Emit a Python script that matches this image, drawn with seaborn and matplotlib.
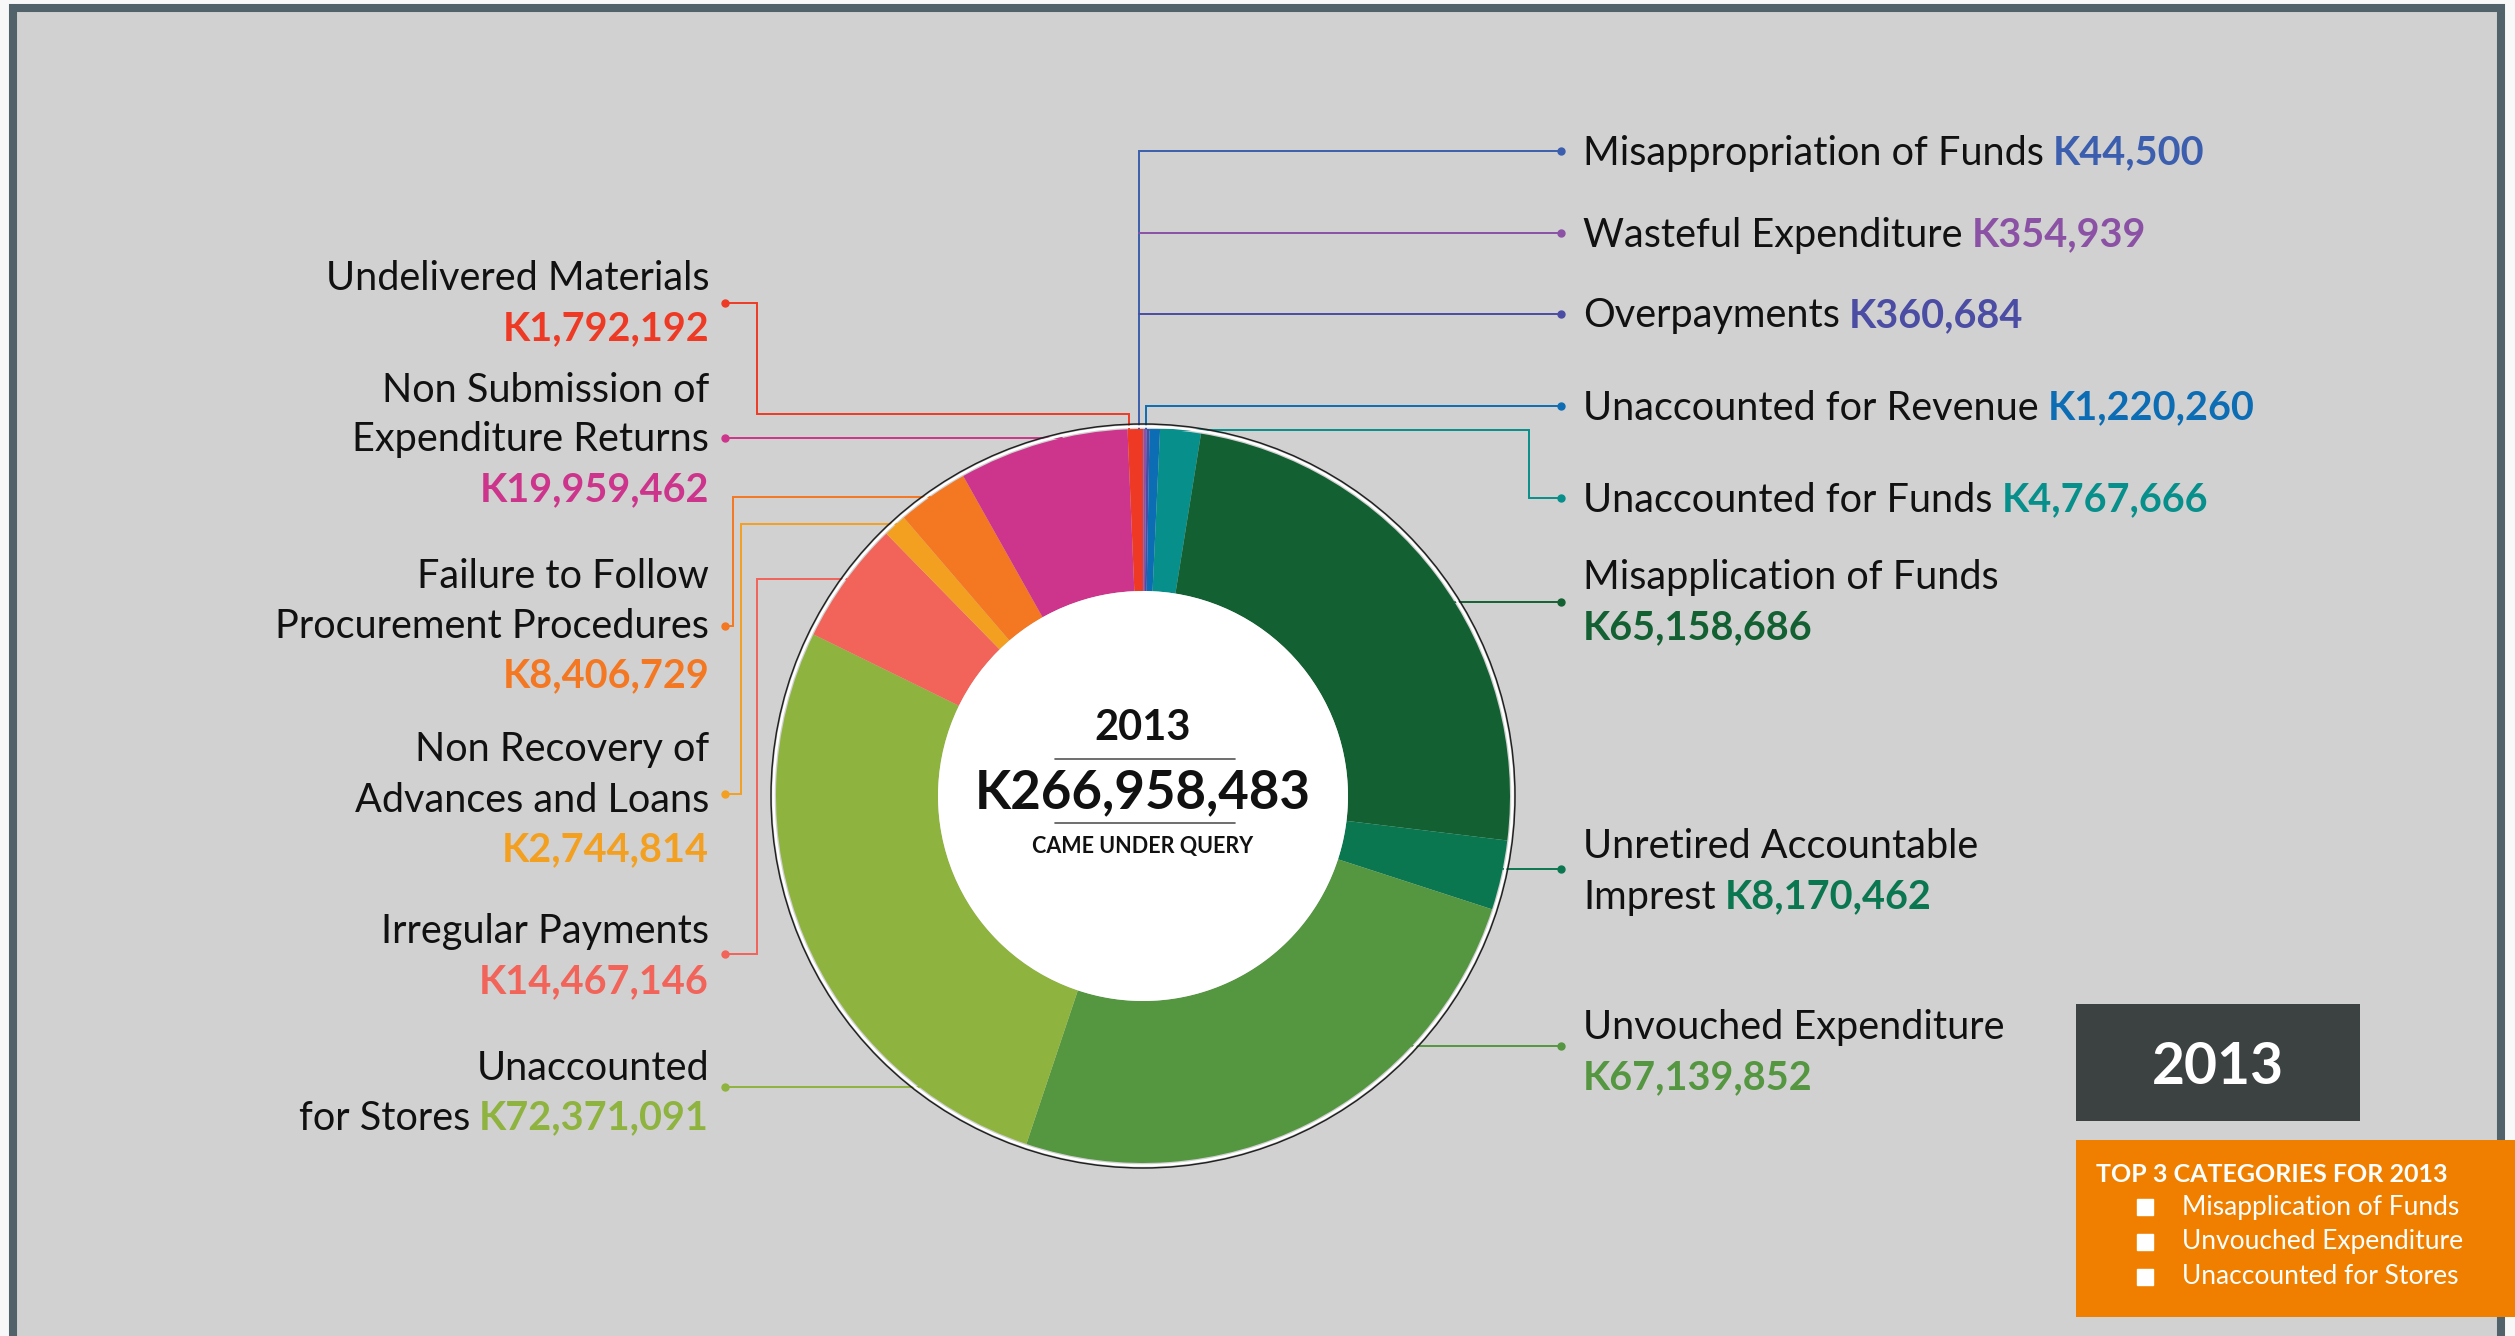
import matplotlib
matplotlib.use('Agg')
import numpy as np
import seaborn as sns
import matplotlib.pyplot as plt
from matplotlib.patches import Rectangle, Circle

# ---- data (2013 queried amounts, clockwise from 12 o'clock) ----
categories = ['Misappropriation of Funds', 'Wasteful Expenditure', 'Overpayments',
              'Unaccounted for Revenue', 'Unaccounted for Funds', 'Misapplication of Funds',
              'Unretired Accountable Imprest', 'Unvouched Expenditure', 'Unaccounted for Stores',
              'Irregular Payments', 'Non Recovery of Advances and Loans',
              'Failure to Follow Procurement Procedures',
              'Non Submission of Expenditure Returns', 'Undelivered Materials']
amounts = [44500, 354939, 360684, 1220260, 4767666, 65158686, 8170462, 67139852,
           72371091, 14467146, 2744814, 8406729, 19959462, 1792192]
slice_colors = ['#3b5fae', '#8b51a5', '#4b4ca3', '#0c6db4', '#078f8b', '#136132',
                '#0b7751', '#559641', '#8fb33f', '#f26359', '#f3a020', '#f47721',
                '#cc358b', '#ee3a25']
# how each label is broken into lines ('' = value on its own line)
label_lines = [['Misappropriation of Funds'], ['Wasteful Expenditure'], ['Overpayments'],
               ['Unaccounted for Revenue'], ['Unaccounted for Funds'],
               ['Misapplication of Funds', ''], ['Unretired Accountable', 'Imprest'],
               ['Unvouched Expenditure', ''], ['Unaccounted', 'for Stores'],
               ['Irregular Payments', ''], ['Non Recovery of', 'Advances and Loans', ''],
               ['Failure to Follow', 'Procurement Procedures', ''],
               ['Non Submission of', 'Expenditure Returns', ''], ['Undelivered Materials', '']]
year = '2013'

# ---- layout (pixels, measured from top-left) ----
W, H = 2515, 1336
CX, CY, R, R_IN = 1143, 796, 367, 205
LINE_H = 50
sides = ['R'] * 8 + ['L'] * 6
first_line_y = [153, 235, 316, 408, 500, 578, 847, 1028, 1068, 932, 750, 576, 390, 279]
E = None  # run to the donut edge
routes = [
    [(1561, 151), (1139, 151), (1139, E)],
    [(1561, 233), (1139, 233)],
    [(1561, 314), (1139, 314)],
    [(1561, 406), (1146, 406), (1146, E)],
    [(1561, 498), (1529, 498), (1529, 430), (1150, 430)],
    [(1561, 602), (E, 602)],
    [(1561, 869), (E, 869)],
    [(1561, 1046), (E, 1046)],
    [(725, 1087), (E, 1087)],
    [(725, 954), (757, 954), (757, 579), (E, 579)],
    [(725, 794), (741, 794), (741, 524), (E, 524)],
    [(725, 626), (733, 626), (733, 497), (E, 497)],
    [(725, 438), (E, 438)],
    [(725, 303), (757, 303), (757, 414), (1129, 414), (1129, E)],
]

sns.set_theme(style='white')
plt.rcParams['font.family'] = ['Lato', 'DejaVu Sans']

fig = plt.figure(figsize=(W / 100, H / 100), dpi=100, facecolor='#f8f8f8')
ax = fig.add_axes([0, 0, 1, 1])
ax.set_facecolor('#f8f8f8')


def Y(y):
    return H - y


# grey panel with slate frame
ax.add_patch(Rectangle((13, Y(1350)), 2488, 1342, facecolor='#d1d1d1',
                       edgecolor='#52626a', lw=5.8, zorder=0))

palette = sns.color_palette(slice_colors)
ax.pie(amounts, colors=palette, startangle=90, counterclock=False, radius=R,
       center=(CX, Y(CY)), wedgeprops=dict(width=R - R_IN, linewidth=0), frame=True)
for p in ax.patches[1:]:
    p.set_zorder(3)
ax.add_patch(Circle((CX, Y(CY)), R_IN, facecolor='white', edgecolor='none', zorder=4))
ax.add_patch(Circle((CX, Y(CY)), R + 2.5, fill=False, edgecolor='white', lw=1.8, zorder=4))
ax.add_patch(Circle((CX, Y(CY)), R + 5, fill=False, edgecolor='#222222', lw=1.1, zorder=4))

# connector lines
for i, route in enumerate(routes):
    pts = []
    for x, y in route:
        if x is None:
            dx = np.sqrt(max(R ** 2 - (y - CY) ** 2, 0))
            x = CX + dx if sides[i] == 'R' else CX - dx
        if y is None:
            y = CY - np.sqrt(max(R ** 2 - (x - CX) ** 2, 0))
        pts.append((x, Y(y)))
    xs, ys = zip(*pts)
    ax.plot(xs, ys, color=slice_colors[i], lw=1.4, zorder=2, solid_joinstyle='miter')
    ax.plot(xs[0], ys[0], 'o', color=slice_colors[i], ms=5, zorder=2)

# labels
FS = 28.5
for i, lines in enumerate(label_lines):
    val = f'K{amounts[i]:,}'
    col = slice_colors[i]
    right = sides[i] == 'R'
    tx = 1583 if right else 709
    ha = 'left' if right else 'right'
    for k, line in enumerate(lines):
        y = Y(first_line_y[i] + k * LINE_H)
        last = k == len(lines) - 1
        if line == '':
            ax.text(tx, y, val, ha=ha, va='center', fontsize=FS, fontweight='bold',
                    color=col, zorder=5)
        elif last and right:
            t = ax.text(tx, y, line, ha='left', va='center', fontsize=FS,
                        color='#111111', zorder=5)
            ax.annotate(val, xy=(1, 0), xycoords=t, xytext=(9, 0),
                        textcoords='offset pixels', ha='left', va='bottom',
                        fontsize=FS, fontweight='bold', color=col, zorder=5)
        elif last:
            t = ax.text(tx, y, val, ha='right', va='center', fontsize=FS,
                        fontweight='bold', color=col, zorder=5)
            ax.annotate(line, xy=(0, 0), xycoords=t, xytext=(-9, 0),
                        textcoords='offset pixels', ha='right', va='bottom',
                        fontsize=FS, color='#111111', zorder=5)
        else:
            ax.text(tx, y, line, ha=ha, va='center', fontsize=FS,
                    color='#111111', zorder=5)

# centre of donut
total = sum(amounts)
ax.text(CX, Y(728), year, ha='center', va='center', fontsize=30, fontweight='bold',
        color='#111111', zorder=6)
ax.plot([1055, 1235], [Y(759), Y(759)], color='#555555', lw=1.2, zorder=6)
ax.text(CX, Y(793), f'K{total:,}', ha='center', va='center', fontsize=38,
        fontweight='bold', color='#111111', zorder=6)
ax.plot([1055, 1235], [Y(823), Y(823)], color='#555555', lw=1.2, zorder=6)
ax.text(CX, Y(847), 'CAME UNDER QUERY', ha='center', va='center', fontsize=15.5,
        fontweight='bold', color='#111111', zorder=6)

# year badge and top-3 box
ax.add_patch(Rectangle((2076, Y(1121)), 284, 117, facecolor='#3c4142',
                       edgecolor='none', zorder=6))
ax.text(2218, Y(1068), year, ha='center', va='center', fontsize=41, fontweight='bold',
        color='white', zorder=7)
ax.add_patch(Rectangle((2076, Y(1317)), 460, 177, facecolor='#f07f00',
                       edgecolor='none', zorder=6))
ax.text(2096, Y(1174), f'TOP 3 CATEGORIES FOR {year}', ha='left', va='center',
        fontsize=18, fontweight='bold', color='white', zorder=7)
largest = sorted(amounts, reverse=True)[:3]
top3 = [c for c, a in zip(categories, amounts) if a in largest]
for k, name in enumerate(top3):
    yy = Y(1207 + k * 35)
    ax.plot(2145, yy, 's', color='white', ms=11, zorder=7)
    ax.text(2182, yy, name, ha='left', va='center', fontsize=19, color='white', zorder=7)

ax.set_xlim(0, W)
ax.set_ylim(0, H)
ax.set_aspect('equal')
ax.axis('off')

fig.savefig('out.png', dpi=100, facecolor=fig.get_facecolor())
